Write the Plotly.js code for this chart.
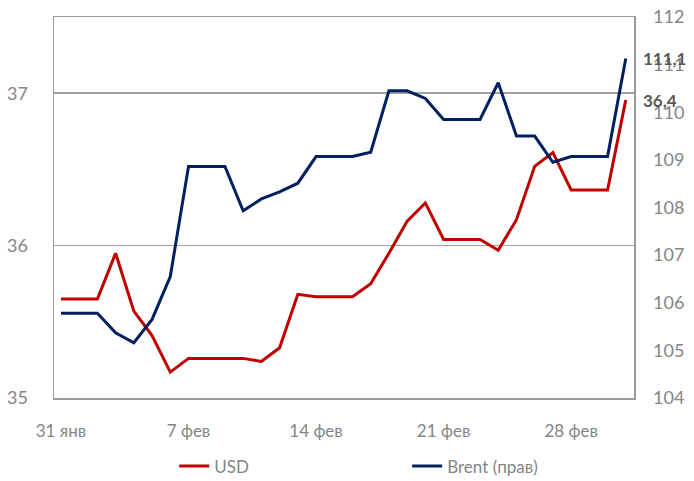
<!DOCTYPE html>
<html><head><meta charset="utf-8">
<script src="https://cdn.plot.ly/plotly-3.0.1.min.js"></script>
<style>html,body{margin:0;padding:0;background:#fff}#c{width:694px;height:481px}</style>
</head><body><div id="c"></div>
<script>
const dates = ["2022-01-31","2022-02-01","2022-02-02","2022-02-03","2022-02-04","2022-02-05","2022-02-06","2022-02-07","2022-02-08","2022-02-09","2022-02-10","2022-02-11","2022-02-12","2022-02-13","2022-02-14","2022-02-15","2022-02-16","2022-02-17","2022-02-18","2022-02-19","2022-02-20","2022-02-21","2022-02-22","2022-02-23","2022-02-24","2022-02-25","2022-02-26","2022-02-27","2022-02-28","2022-03-01","2022-03-02","2022-03-03"];
const usd = [35.65,35.65,35.65,35.95,35.57,35.41,35.17,35.26,35.26,35.26,35.26,35.24,35.33,35.68,35.665,35.665,35.665,35.75,35.95,36.16,36.28,36.04,36.04,36.04,35.97,36.17,36.52,36.61,36.365,36.365,36.365,36.955];
const brent = [105.78,105.78,105.78,105.37,105.16,105.65,106.55,108.86,108.86,108.86,107.93,108.18,108.33,108.51,109.07,109.07,109.07,109.16,110.45,110.45,110.29,109.85,109.85,109.85,110.62,109.50,109.50,108.95,109.07,109.07,109.07,111.13];
const xTickVals = ["2022-01-31","2022-02-07","2022-02-14","2022-02-21","2022-02-28"];
const xTickText = ["31 янв","7 фев","14 фев","21 фев","28 фев"];
const leftTicks = [35,36,37];
const rightTicks = [104,105,106,107,108,109,110,111,112];
const endLabels = ["111,1","36,4"];

const font = "Lato, 'Open Sans', sans-serif";
const gray = "#858585";
const traces = [
  {x: dates, y: usd, name: "USD", type: "scatter", mode: "lines", line: {color: "#C00000", width: 3}, yaxis: "y"},
  {x: dates, y: brent, name: "Brent (прав)", type: "scatter", mode: "lines", line: {color: "#002060", width: 3}, yaxis: "y2"}
];
const layout = {
  width: 694, height: 481,
  margin: {l: 54, r: 60, t: 17, b: 83},
  paper_bgcolor: "#fff", plot_bgcolor: "#fff",
  font: {family: font, color: gray, size: 16},
  showlegend: true,
  legend: {orientation: "h", xref: "container", yref: "container", x: 0.251, xanchor: "left", y: 0.03, yanchor: "middle", entrywidth: 188, entrywidthmode: "pixels", font: {size: 17, color: gray}, bgcolor: "rgba(0,0,0,0)"},
  xaxis: {type: "date", range: ["2022-01-30 14:50", "2022-03-03 10:50"], tickvals: xTickVals, ticktext: xTickText,
    showgrid: false, showline: true, linecolor: "#9a9a9a", linewidth: 1.5, mirror: true, ticks: "", ticklabelstandoff: 17, tickfont: {size: 17}, zeroline: false, automargin: false},
  yaxis: {range: [35, 37.5], tickvals: leftTicks, ticktext: leftTicks.map(String), showgrid: true, gridcolor: "#a0a0a0", gridwidth: 1.5,
    showline: true, linecolor: "#9a9a9a", linewidth: 1.5, mirror: true, ticks: "", ticklabelstandoff: 21, zeroline: false, tickfont: {size: 18}, automargin: false},
  yaxis2: {range: [104, 112], overlaying: "y", side: "right", tickvals: rightTicks, showgrid: false, showline: false, ticks: "", ticklabelstandoff: 18, zeroline: false, tickfont: {size: 18}, automargin: false},
  annotations: [
    {xref: "paper", yref: "y2", x: 1.012, y: brent[brent.length-1], text: "<b>" + endLabels[0] + "</b>", showarrow: false, xanchor: "left", yanchor: "middle", font: {size: 17, color: "#595959"}},
    {xref: "paper", yref: "y", x: 1.012, y: usd[usd.length-1], text: "<b>" + endLabels[1] + "</b>", showarrow: false, xanchor: "left", yanchor: "middle", font: {size: 17, color: "#595959"}}
  ]
};
Plotly.newPlot("c", traces, layout, {displayModeBar: false, staticPlot: true});
</script></body></html>
